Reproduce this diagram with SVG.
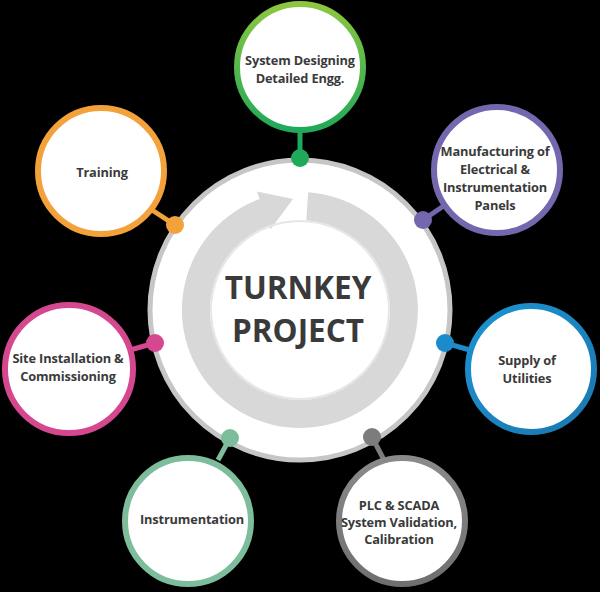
<svg xmlns="http://www.w3.org/2000/svg" width="600" height="592" viewBox="0 0 600 592">
<style>
.lbl{font-family:"Open Sans","Liberation Sans",sans-serif;font-weight:700;font-size:12.8px;letter-spacing:-0.15px;fill:#3a3a3a;text-anchor:middle}
.big{font-family:"Open Sans","Liberation Sans",sans-serif;font-weight:700;font-size:31.5px;fill:#3a3a3a;text-anchor:middle}
.sat{fill:#ffffff;stroke-width:6}
.stem{stroke-width:5;fill:none}
</style>
<defs>
<linearGradient id="gGreen" x1="0" y1="0" x2="0" y2="1">
<stop offset="0" stop-color="#8dc63f"/><stop offset="1" stop-color="#1fa95a"/>
</linearGradient>
<linearGradient id="gBlue" x1="0" y1="0" x2="1" y2="1">
<stop offset="0" stop-color="#1c93d2"/><stop offset="1" stop-color="#1a77b0"/>
</linearGradient>
<linearGradient id="gGray" x1="0" y1="0" x2="0" y2="1">
<stop offset="0" stop-color="#8a8a8a"/><stop offset="1" stop-color="#6f6f6f"/>
</linearGradient>
</defs>
<rect x="0" y="0" width="600" height="592" fill="#000000"/>

<g id="connectors">
<line class="stem" x1="300" y1="158" x2="300" y2="128" stroke="#1fa95a"/>
<line class="stem" x1="423" y1="220" x2="445" y2="205" stroke="#7467ad"/>
<line class="stem" x1="175" y1="225" x2="152" y2="210" stroke="#f3a23b"/>
<line class="stem" x1="155" y1="343" x2="130" y2="350" stroke="#d5488f"/>
<line class="stem" x1="445" y1="343" x2="470" y2="350" stroke="#1c8bcb"/>
<line class="stem" x1="230" y1="438" x2="218" y2="460" stroke="#7dbd9c"/>
<line class="stem" x1="372" y1="437" x2="384" y2="460" stroke="#7c7c7c"/>
</g>

<g id="center">
<circle cx="300" cy="310" r="150" fill="#ffffff" stroke="#c6c6c6" stroke-width="5"/>
<path d="M 308.2 192.3 A 118 118 0 1 1 259.6 199.1 L 256.9 191.6 L 293 199 L 270.6 229.2 L 269.2 225.4 A 90 90 0 1 0 306.3 220.2 Z" fill="#d8d8d8"/>
<circle cx="300" cy="310" r="89" fill="none" stroke="#e6e6e6" stroke-width="2"/>
<text class="big" x="298" y="299">TURNKEY</text>
<text class="big" x="298" y="342">PROJECT</text>
</g>

<g id="dots">
<circle cx="300" cy="158" r="9" fill="#1fa95a"/>
<circle cx="423" cy="220" r="9" fill="#7467ad"/>
<circle cx="175" cy="225" r="9" fill="#f3a23b"/>
<circle cx="155" cy="343" r="9" fill="#d5488f"/>
<circle cx="445" cy="343" r="9" fill="#1c8bcb"/>
<circle cx="230" cy="438" r="9" fill="#7dbd9c"/>
<circle cx="372" cy="437" r="9" fill="#7c7c7c"/>
</g>

<g id="node-design">
<circle class="sat" cx="300" cy="67" r="63" stroke="url(#gGreen)"/>
<text class="lbl" x="300" y="65">System Designing</text>
<text class="lbl" x="300" y="83">Detailed Engg.</text>
</g>

<g id="node-manufacturing">
<circle class="sat" cx="497" cy="170" r="63" stroke="#7467ad"/>
<text class="lbl" x="495" y="156">Manufacturing of</text>
<text class="lbl" x="495" y="174">Electrical &amp;</text>
<text class="lbl" x="495" y="192">Instrumentation</text>
<text class="lbl" x="495" y="210">Panels</text>
</g>

<g id="node-training">
<circle class="sat" cx="101" cy="171" r="63" stroke="#f3a23b"/>
<text class="lbl" x="102" y="177">Training</text>
</g>

<g id="node-site">
<circle class="sat" cx="69" cy="369" r="64" stroke="#d5488f"/>
<text class="lbl" x="68" y="363">Site Installation &amp;</text>
<text class="lbl" x="68" y="381">Commissioning</text>
</g>

<g id="node-supply">
<circle class="sat" cx="531" cy="369" r="63" stroke="url(#gBlue)"/>
<text class="lbl" x="527" y="365">Supply of</text>
<text class="lbl" x="527" y="383">Utilities</text>
</g>

<g id="node-instrumentation">
<circle class="sat" cx="188" cy="521" r="63" stroke="#7dbd9c"/>
<text class="lbl" x="192" y="524">Instrumentation</text>
</g>

<g id="node-plc">
<circle class="sat" cx="402" cy="521" r="63" stroke="url(#gGray)"/>
<text class="lbl" x="399" y="510">PLC &amp; SCADA</text>
<text class="lbl" x="399" y="527">System Validation,</text>
<text class="lbl" x="399" y="544">Calibration</text>
</g>
</svg>
